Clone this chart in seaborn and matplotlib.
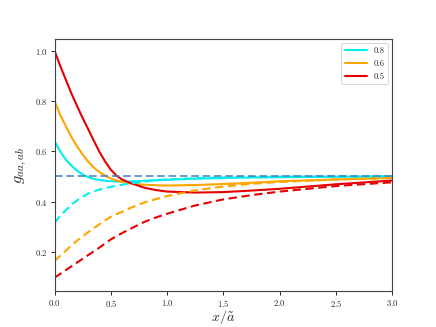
import numpy as np
import pandas as pd
import matplotlib
matplotlib.use("Agg")
import matplotlib.pyplot as plt
import seaborn as sns

# ---- data ----
x = [0.0, 0.05, 0.1, 0.15, 0.2, 0.25, 0.3, 0.35, 0.4, 0.45, 0.5, 0.55, 0.6, 0.65, 0.7,
     0.8, 0.9, 1.0, 1.25, 1.5, 1.75, 2.0, 2.5, 3.0]
labels = ["0.8", "0.6", "0.5"]
colors = ["#00eeee", "orange", "#e60000"]

g_aa_08 = [0.640, 0.600, 0.567, 0.543, 0.523, 0.508, 0.497, 0.490, 0.486, 0.483, 0.481,
           0.480, 0.480, 0.480, 0.481,
           0.483, 0.485, 0.487, 0.491, 0.494, 0.496, 0.497, 0.499, 0.500]
g_aa_06 = [0.800, 0.745, 0.700, 0.657, 0.620, 0.587, 0.558, 0.535, 0.517, 0.503, 0.492,
           0.484, 0.478, 0.474, 0.471,
           0.467, 0.465, 0.464, 0.466, 0.470, 0.475, 0.481, 0.488, 0.494]
g_aa_05 = [1.000, 0.940, 0.885, 0.830, 0.780, 0.732, 0.687, 0.641, 0.597, 0.559, 0.527,
           0.503, 0.488, 0.478, 0.470,
           0.455, 0.446, 0.440, 0.436, 0.438, 0.444, 0.451, 0.469, 0.484]

g_ab_08 = [0.316, 0.343, 0.366, 0.387, 0.405, 0.420, 0.432, 0.441, 0.448, 0.454, 0.459,
           0.463, 0.467, 0.471, 0.474,
           0.480, 0.485, 0.488, 0.493, 0.496, 0.498, 0.499, 0.500, 0.500]
g_ab_06 = [0.164, 0.185, 0.205, 0.226, 0.245, 0.262, 0.279, 0.295, 0.311, 0.326, 0.340,
           0.350, 0.360, 0.370, 0.380,
           0.397, 0.410, 0.422, 0.445, 0.460, 0.471, 0.478, 0.488, 0.494]
g_ab_05 = [0.098, 0.113, 0.128, 0.143, 0.158, 0.173, 0.188, 0.203, 0.218, 0.234, 0.250,
           0.263, 0.275, 0.287, 0.298,
           0.320, 0.337, 0.352, 0.385, 0.409, 0.426, 0.440, 0.462, 0.477]

ref_level = 0.5

# ---- style ----
sns.set_style("ticks")
plt.rcParams["font.family"] = ["cmr10", "DejaVu Serif"]
plt.rcParams["mathtext.fontset"] = "cm"
plt.rcParams["axes.formatter.use_mathtext"] = True
plt.rcParams["axes.unicode_minus"] = False

ratio_col = sum([[l] * len(x) for l in labels], [])
aa = pd.DataFrame({"x": x * 3, "g": g_aa_08 + g_aa_06 + g_aa_05, "ratio": ratio_col})
ab = pd.DataFrame({"x": x * 3, "g": g_ab_08 + g_ab_06 + g_ab_05, "ratio": ratio_col})
pal = dict(zip(labels, colors))

fig, ax = plt.subplots(figsize=(6.4, 4.8), dpi=68.125)
sns.lineplot(data=aa, x="x", y="g", hue="ratio", hue_order=labels, palette=pal,
             lw=2.2, ax=ax)
sns.lineplot(data=ab, x="x", y="g", hue="ratio", hue_order=labels, palette=pal,
             lw=2.2, ax=ax, linestyle=(0, (4, 2.2)), legend=False)
ax.axhline(ref_level, color="#3f7fbf", lw=1.6, ls=(0, (5, 2.5)))

ax.set_xlim(0, 3)
ax.set_ylim(0.045, 1.045)
ax.set_xticks([0.0, 0.5, 1.0, 1.5, 2.0, 2.5, 3.0])
ax.set_yticks([0.2, 0.4, 0.6, 0.8, 1.0])
ax.tick_params(labelsize=9, length=4, width=1)
for s in ax.spines.values():
    s.set_color("#444444")
    s.set_linewidth(1.2)
ax.set_xlabel(r"$x/\tilde{a}$", fontsize=15, labelpad=-1)
ax.set_ylabel(r"$g_{aa,ab}$", fontsize=17, labelpad=6)
leg = ax.legend(title=None, loc="upper right", fontsize=9, handlelength=2.6)

fig.savefig("out.png", dpi=68.125)
